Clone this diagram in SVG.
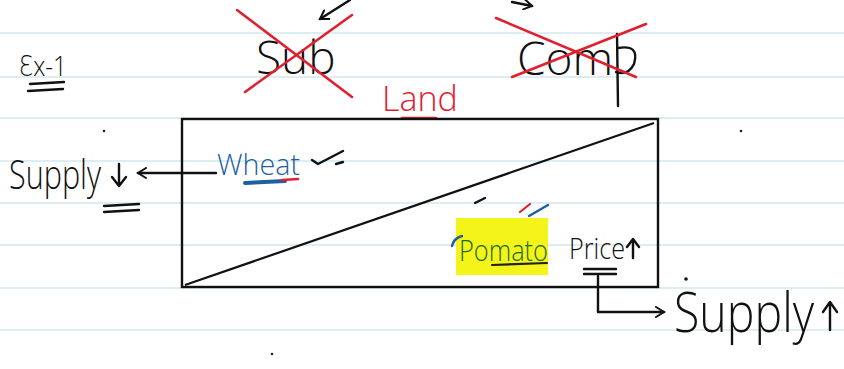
<svg xmlns="http://www.w3.org/2000/svg" width="844" height="369" viewBox="0 0 844 369">
<defs>
<style>
.rule{stroke:#dceef4;stroke-width:2}
.ink{fill:none;stroke:#111;stroke-width:2.4;stroke-linecap:round;stroke-linejoin:round}
.red{fill:none;stroke:#e0202f;stroke-width:2.6;stroke-linecap:round}
.hw{font-family:"Open Sans","DejaVu Sans",sans-serif;font-weight:300}
</style>
<marker id="ah" viewBox="0 0 12 12" refX="10" refY="6" markerWidth="12" markerHeight="12" markerUnits="userSpaceOnUse" orient="auto">
<path d="M2,1 L10,6 L2,11" fill="none" stroke="#111" stroke-width="2" stroke-linecap="round"/>
</marker>
</defs>
<rect width="844" height="369" fill="#ffffff"/>
<g id="paper">
<line class="rule" x1="0" y1="33" x2="844" y2="33"/>
<line class="rule" x1="0" y1="77" x2="844" y2="77"/>
<line class="rule" x1="0" y1="118" x2="844" y2="118"/>
<line class="rule" x1="0" y1="161" x2="844" y2="161"/>
<line class="rule" x1="0" y1="203" x2="844" y2="203"/>
<line class="rule" x1="0" y1="245" x2="844" y2="245"/>
<line class="rule" x1="0" y1="288" x2="844" y2="288"/>
<line class="rule" x1="0" y1="330" x2="844" y2="330"/>
<circle cx="104" cy="131" r="1.3" fill="#222"/>
<circle cx="741" cy="131" r="1.3" fill="#222"/>
<circle cx="272" cy="354" r="1.3" fill="#222"/>
</g>
<g id="ex1">
<text class="hw" x="19" y="76" font-size="28" fill="#111" textLength="48" lengthAdjust="spacingAndGlyphs">Ɛx-1</text>
<path class="ink" d="M30,84 L64,82 M28,91 L63,89"/>
</g>
<g id="sub">
<text class="hw" x="256" y="74" font-size="46" fill="#111">Sub</text>
<path class="red" d="M237,10 L352,97 M245,92 L352,15"/>
</g>
<g id="comp">
<text class="hw" x="517" y="75" font-size="46" fill="#111">Com</text>
<path class="ink" d="M617,34 L618,106 M618,48 Q640,44 634,64 Q628,76 616,72"/>
<path class="red" d="M496,18 L636,77 M512,77 L646,24"/>
</g>
<g id="land">
<text class="hw" x="382" y="111" font-size="34" fill="#e0202f">Land</text>
<path class="red" d="M402,118 L436,118"/>
</g>
<g id="box">
<rect x="182" y="119" width="476" height="168" fill="none" stroke="#111" stroke-width="2.4"/>
<line x1="185" y1="285" x2="654" y2="123" stroke="#111" stroke-width="2.2"/>
</g>
<g id="wheat">
<text class="hw" x="217" y="175" font-size="30" fill="#1f5f9e" textLength="83" lengthAdjust="spacingAndGlyphs">Wheat</text>
<path d="M245,183 L285,181" stroke="#1f5f9e" stroke-width="4" stroke-linecap="round"/>
<path d="M282,180 L298,179" stroke="#e0202f" stroke-width="2.5" stroke-linecap="round"/>
<path class="ink" d="M312,160 L318,164 L343,151"/>
<path class="ink" d="M336,164 L343,162" stroke-width="1.5"/>
</g>
<g id="supply-down">
<text class="hw" x="9" y="189" font-size="40" fill="#111" textLength="92" lengthAdjust="spacingAndGlyphs">Supply</text>
<path class="ink" d="M119,164 L119,185 M112,177 L119,186 L126,177"/>
<path class="ink" d="M104,206 L139,204 M104,212 L139,210"/>
</g>
<g id="tomato">
<rect x="456" y="218" width="92" height="57" fill="#f4f41a"/>
<text class="hw" x="459" y="261" font-size="30" fill="#1b6b1f" textLength="89" lengthAdjust="spacingAndGlyphs">Pomato</text>
<path d="M452,246 Q454,238 462,236" fill="none" stroke="#1f5f9e" stroke-width="2.4" stroke-linecap="round"/>
<path d="M492,265 L547,263" stroke="#222" stroke-width="2.2" stroke-linecap="round"/>
<path class="ink" d="M475,203 L485,198" stroke-width="1.8"/>
<path d="M520,212 L530,204" stroke="#e0202f" stroke-width="2.2" stroke-linecap="round"/>
<path d="M529,216 L548,205" stroke="#1f5f9e" stroke-width="2.4" stroke-linecap="round"/>
</g>
<g id="price">
<text class="hw" x="569" y="259" font-size="30" fill="#111" textLength="56" lengthAdjust="spacingAndGlyphs">Price</text>
<path class="ink" d="M633,240 L633,258 M627,247 L633,239 L639,247"/>
<path class="ink" d="M584,269 L616,269 M584,274 L616,274" stroke-width="2"/>
</g>
<g id="supply-up">
<text class="hw" x="674" y="332" font-size="56" fill="#111" textLength="140" lengthAdjust="spacingAndGlyphs">Supply</text>
<circle cx="686" cy="279" r="1.8" fill="#111"/>
<path class="ink" d="M830,303 L830,330 M823,312 L830,302 L837,312"/>
</g>
<g id="connectors">
<path class="ink" d="M216,173 L138,173" marker-end="url(#ah)"/>
<path class="ink" d="M598,276 L598,312 L664,312" marker-end="url(#ah)"/>
<path class="ink" d="M350,0 L320,19" marker-end="url(#ah)"/>
<path class="ink" d="M512,2 L532,6" marker-end="url(#ah)"/>
</g>
</svg>
